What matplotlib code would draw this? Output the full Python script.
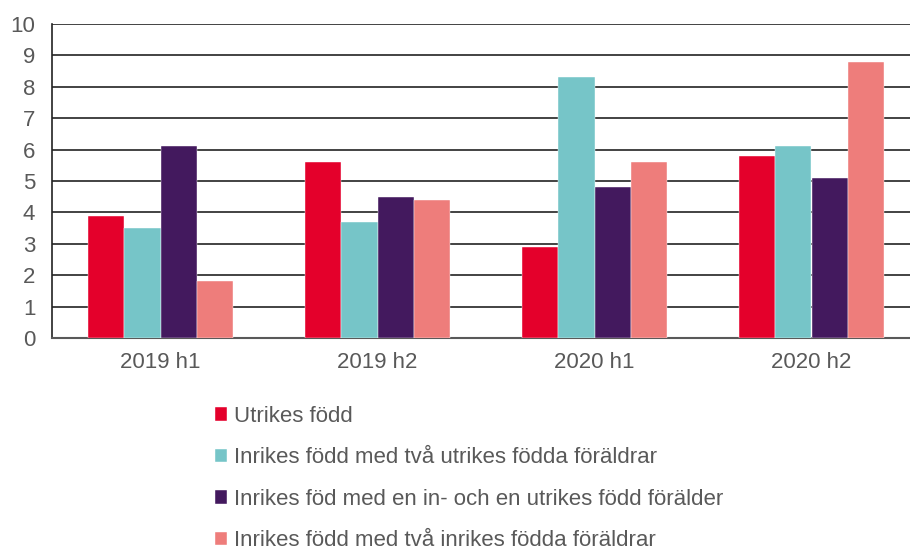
import numpy as np
import matplotlib.pyplot as plt

plt.rcParams['font.family'] = ['Liberation Sans', 'DejaVu Sans']

# data
categories = ["2019 h1", "2019 h2", "2020 h1", "2020 h2"]
series_names = ["Utrikes född",
                "Inrikes född med två utrikes födda föräldrar",
                "Inrikes föd med en in- och en utrikes född förälder",
                "Inrikes född med två inrikes födda föräldrar"]
utrikes = [3.9, 5.6, 2.9, 5.8]
inrikes_tva_utrikes = [3.5, 3.7, 8.3, 6.1]
inrikes_en_in_en_ut = [6.1, 4.5, 4.8, 5.1]
inrikes_tva_inrikes = [1.8, 4.4, 5.6, 8.8]
series = [utrikes, inrikes_tva_utrikes, inrikes_en_in_en_ut, inrikes_tva_inrikes]
colors = ["#E4002B", "#76C5C8", "#43195E", "#EE7D7B"]

txt = "#595959"

fig = plt.figure(figsize=(9.1, 5.46), dpi=100)
ax = fig.add_axes([52/910, 1-338/546, 868/910, 314/546])

x = np.arange(len(categories))
w = 0.166
for i, (vals, c, name) in enumerate(zip(series, colors, series_names)):
    ax.bar(x + (i - 1.5)*w, vals, w, color=c, label=name, zorder=3,
           edgecolor='white', linewidth=0.3)

ax.set_xlim(-0.5, 3.5)
ax.set_ylim(0, 10)
ax.set_yticks(range(0, 11))
ax.set_xticks(x)
ax.set_xticklabels(categories)
ax.tick_params(length=0, labelsize=16, labelcolor=txt)
ax.tick_params(axis='x', pad=10)
ax.tick_params(axis='y', pad=12)
ax.grid(axis='y', color='#222222', linewidth=1.2, zorder=0)
for s in ['top', 'right']:
    ax.spines[s].set_visible(False)
ax.spines['left'].set_color('#222222')
ax.spines['left'].set_linewidth(1.2)
ax.spines['bottom'].set_color('#595959')
ax.spines['bottom'].set_linewidth(1.5)

handles, labels = ax.get_legend_handles_labels()
fig.legend(handles, labels, loc='upper left', bbox_to_anchor=(195/910, 1-386/546),
           frameon=False, fontsize=16, labelcolor=txt, handlelength=0.55,
           handleheight=0.55, handletextpad=0.3, labelspacing=0.92)

fig.savefig("out.png", dpi=100)
